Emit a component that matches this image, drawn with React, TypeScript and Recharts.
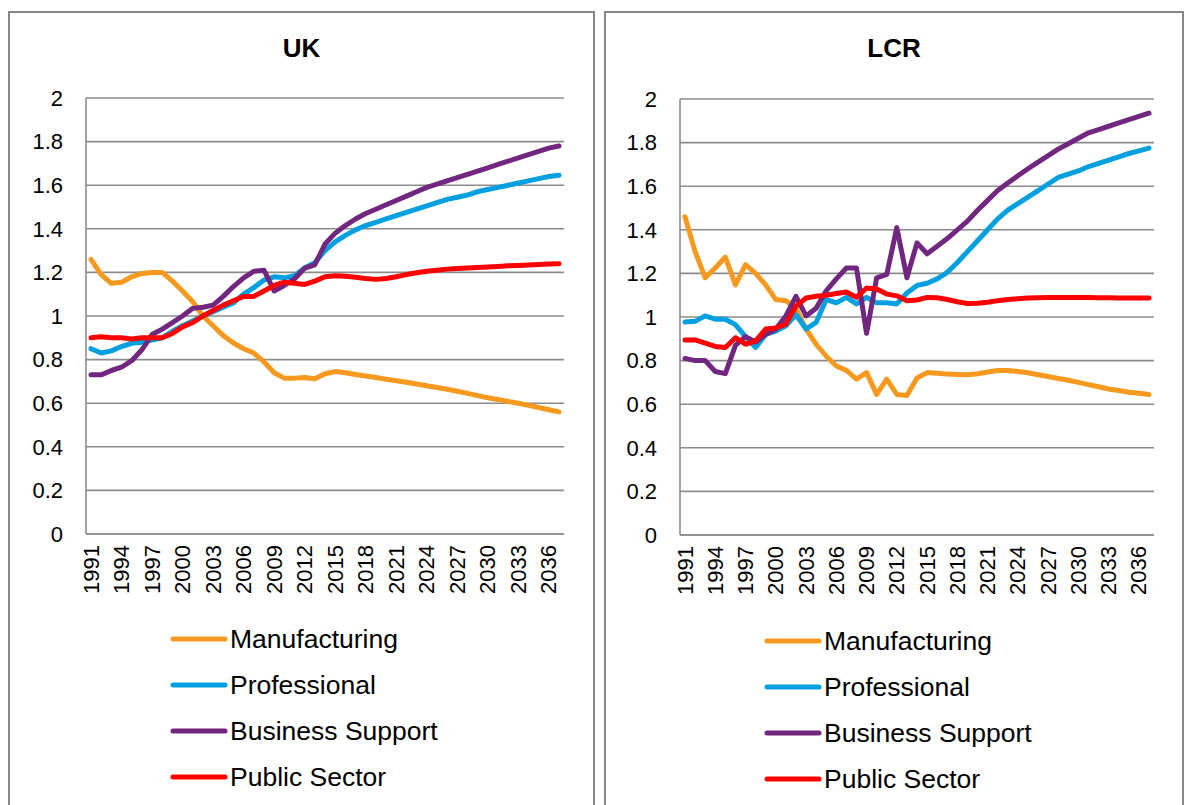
import { LineChart, Line, XAxis, YAxis, CartesianGrid, Legend } from "recharts";

const YEARS = [
  "1991", "1992", "1993", "1994", "1995", "1996", "1997", "1998", "1999", "2000",
  "2001", "2002", "2003", "2004", "2005", "2006", "2007", "2008", "2009", "2010",
  "2011", "2012", "2013", "2014", "2015", "2016", "2017", "2018", "2019", "2020",
  "2021", "2022", "2023", "2024", "2025", "2026", "2027", "2028", "2029", "2030",
  "2031", "2032", "2033", "2034", "2035", "2036", "2037"
];

const Y_TICKS = [0, 0.2, 0.4, 0.6, 0.8, 1, 1.2, 1.4, 1.6, 1.8, 2];

const UK_MANUFACTURING = [
  1.26, 1.19, 1.15, 1.155, 1.18, 1.195, 1.2, 1.2, 1.16, 1.115,
  1.065, 1.0, 0.955, 0.91, 0.876, 0.85, 0.83, 0.79, 0.74, 0.715,
  0.715, 0.718, 0.712, 0.735, 0.745, 0.74, 0.732, 0.725, 0.718, 0.71,
  0.703, 0.696, 0.688, 0.68, 0.672, 0.664, 0.655, 0.645, 0.635, 0.625,
  0.617, 0.608, 0.6, 0.59, 0.58, 0.57, 0.56
];
const UK_PROFESSIONAL = [
  0.85, 0.83, 0.84, 0.86, 0.875, 0.88, 0.89, 0.9, 0.93, 0.955,
  0.977, 1.0, 1.02, 1.04, 1.06, 1.1, 1.13, 1.165, 1.18, 1.175,
  1.185, 1.22, 1.245, 1.3, 1.34, 1.37, 1.395, 1.415, 1.43, 1.445,
  1.46, 1.475, 1.49, 1.505, 1.52, 1.535, 1.545, 1.555, 1.57, 1.58,
  1.59, 1.6, 1.61, 1.62, 1.63, 1.64, 1.646
];
const UK_BUSINESS = [
  0.73, 0.73, 0.75, 0.765, 0.795, 0.845, 0.915, 0.94, 0.97, 1.0,
  1.035, 1.04, 1.05, 1.09, 1.135, 1.175, 1.205, 1.21, 1.115, 1.14,
  1.17, 1.22, 1.235, 1.33, 1.38, 1.415, 1.445, 1.47, 1.49, 1.51,
  1.53, 1.55, 1.57, 1.59, 1.605, 1.62, 1.635, 1.65, 1.665, 1.68,
  1.695, 1.71, 1.725, 1.74, 1.755, 1.77, 1.78
];
const UK_PUBLIC = [
  0.9, 0.905, 0.9, 0.9, 0.895, 0.9, 0.9, 0.9, 0.92, 0.95,
  0.97, 1.0, 1.025, 1.05, 1.07, 1.09, 1.09, 1.115, 1.14, 1.155,
  1.15, 1.145, 1.16, 1.18, 1.185, 1.182, 1.178, 1.172, 1.168, 1.172,
  1.18, 1.19, 1.198, 1.205, 1.21, 1.215, 1.218, 1.22, 1.222, 1.225,
  1.227, 1.23, 1.232, 1.234, 1.236, 1.238, 1.24
];

const LCR_MANUFACTURING = [
  1.46, 1.3, 1.18, 1.225, 1.275, 1.147, 1.24, 1.2, 1.147, 1.08,
  1.075, 1.04, 0.945, 0.875, 0.82, 0.775, 0.755, 0.715, 0.745, 0.645,
  0.715, 0.645, 0.64, 0.72, 0.745, 0.742, 0.738, 0.736, 0.735, 0.74,
  0.748, 0.755, 0.755, 0.75, 0.744, 0.735, 0.727, 0.718, 0.71, 0.7,
  0.69, 0.68, 0.67, 0.663, 0.655, 0.65, 0.645
];
const LCR_PROFESSIONAL = [
  0.977, 0.98, 1.005, 0.99, 0.99, 0.965, 0.91, 0.86, 0.92, 0.935,
  0.96, 1.01, 0.945, 0.975, 1.08, 1.065, 1.09, 1.06, 1.09, 1.065,
  1.065, 1.06, 1.11, 1.145, 1.155, 1.175, 1.205, 1.25, 1.3, 1.35,
  1.4, 1.45, 1.49, 1.52, 1.55, 1.58, 1.61, 1.64, 1.655, 1.67,
  1.69, 1.705, 1.72, 1.735, 1.75, 1.762, 1.775
];
const LCR_BUSINESS = [
  0.81, 0.8, 0.8, 0.75, 0.74, 0.87, 0.91, 0.885, 0.92, 0.945,
  1.005, 1.095, 1.005, 1.04, 1.12, 1.175, 1.225, 1.225, 0.925, 1.18,
  1.195, 1.41, 1.18, 1.34, 1.29, 1.325, 1.36, 1.4, 1.44, 1.49,
  1.535, 1.58, 1.615, 1.648, 1.68, 1.71, 1.74, 1.77, 1.795, 1.82,
  1.845, 1.86, 1.875, 1.89, 1.905, 1.92, 1.935
];
const LCR_PUBLIC = [
  0.895, 0.895, 0.88, 0.865, 0.86, 0.905, 0.875, 0.89, 0.945, 0.95,
  0.967, 1.05, 1.087, 1.095, 1.1, 1.108, 1.115, 1.09, 1.133, 1.128,
  1.105, 1.097, 1.075, 1.078, 1.09, 1.088, 1.08, 1.07, 1.062, 1.063,
  1.068, 1.075, 1.08, 1.084, 1.087, 1.088, 1.089, 1.09, 1.09, 1.089,
  1.089, 1.088, 1.088, 1.087, 1.087, 1.087, 1.087
];

const SERIES = [
  { key: "manufacturing", name: "Manufacturing", color: "#F7991E" },
  { key: "professional", name: "Professional", color: "#00A0E0" },
  { key: "business", name: "Business Support", color: "#71277F" },
  { key: "public", name: "Public Sector", color: "#FF0000" },
];

const FONT = "'Liberation Sans', Arial, sans-serif";
const GRID = "#8c8c8c";

function buildRows(m: number[], p: number[], b: number[], s: number[]) {
  return YEARS.map((year, i) => ({
    year,
    manufacturing: m[i],
    professional: p[i],
    business: b[i],
    public: s[i],
  }));
}

const YearTick = ({ x, y, payload }: any) => (
  <text
    transform={`translate(${x},${y}) rotate(-90)`}
    textAnchor="end"
    dominantBaseline="central"
    fontSize={22}
    fontFamily={FONT}
    fill="#000"
  >
    {payload.value}
  </text>
);

const LegendBox = () => (
  <div style={{ fontFamily: FONT, fontSize: 26.5, color: "#000" }}>
    {SERIES.map((s) => (
      <div key={s.key} style={{ display: "flex", alignItems: "center", height: 46 }}>
        <svg width={58} height={8} style={{ display: "block" }}>
          <line x1={3} y1={4} x2={55} y2={4} stroke={s.color} strokeWidth={5} strokeLinecap="round" />
        </svg>
        <span style={{ marginLeft: 2, whiteSpace: "nowrap" }}>{s.name}</span>
      </div>
    ))}
  </div>
);

interface PanelProps {
  title: string;
  rows: any[];
  left: number;
  width: number;
  margin: { top: number; right: number; bottom: number; left: number };
  legendLeft: number;
  legendTop: number;
}

function Panel({ title, rows, left, width, margin, legendLeft, legendTop }: PanelProps) {
  const top = 11;
  const height = 794;
  return (
    <div style={{ position: "absolute", left, top, width, height }}>
      <div
        style={{
          position: "absolute",
          left: 0,
          top: 0,
          width,
          height: height + 20,
          border: "2px solid #878787",
          boxSizing: "border-box",
        }}
      />
      <div
        style={{
          position: "absolute",
          left: 0,
          top: 24,
          width,
          textAlign: "center",
          fontFamily: FONT,
          fontWeight: "bold",
          fontSize: 26,
          lineHeight: "26px",
        }}
      >
        {title}
      </div>
      <div style={{ position: "absolute", left: 0, top: 0 }}>
        <LineChart width={width} height={height} data={rows} margin={{ top: margin.top, right: margin.right, bottom: 0, left: 0 }}>
          <CartesianGrid vertical={false} stroke={GRID} strokeWidth={1.6} />
          <XAxis
            dataKey="year"
            interval={2}
            padding={{ left: 5, right: 5 }}
            tickLine={false}
            tickSize={0}
            tickMargin={11}
            axisLine={{ stroke: GRID, strokeWidth: 1.6 }}
            height={margin.bottom}
            tick={<YearTick />}
          />
          <YAxis
            domain={[0, 2]}
            ticks={Y_TICKS}
            interval={0}
            width={margin.left}
            tickLine={false}
            tickSize={0}
            tickMargin={23}
            axisLine={{ stroke: GRID, strokeWidth: 1.6 }}
            tick={{ fontSize: 22, fontFamily: FONT, fill: "#000" }}
          />
          {SERIES.map((s) => (
            <Line
              key={s.key}
              type="linear"
              dataKey={s.key}
              name={s.name}
              stroke={s.color}
              strokeWidth={5}
              strokeLinecap="round"
              strokeLinejoin="round"
              dot={false}
              isAnimationActive={false}
            />
          ))}
          <Legend
            layout="vertical"
            align="center"
            verticalAlign="middle"
            wrapperStyle={{ left: legendLeft, top: legendTop, width: "auto" }}
            content={() => <LegendBox />}
          />
        </LineChart>
      </div>
    </div>
  );
}

export default function App() {
  const ukRows = buildRows(UK_MANUFACTURING, UK_PROFESSIONAL, UK_BUSINESS, UK_PUBLIC);
  const lcrRows = buildRows(LCR_MANUFACTURING, LCR_PROFESSIONAL, LCR_BUSINESS, LCR_PUBLIC);
  return (
    <div style={{ position: "absolute", left: 0, top: 0, width: 1185, height: 805, overflow: "hidden", background: "#fff" }}>
      <Panel
        title="UK"
        rows={ukRows}
        left={8}
        width={587}
        margin={{ top: 87, right: 31, bottom: 271, left: 78 }}
        legendLeft={162}
        legendTop={605}
      />
      <Panel
        title="LCR"
        rows={lcrRows}
        left={604}
        width={580}
        margin={{ top: 88, right: 30, bottom: 270, left: 76 }}
        legendLeft={160}
        legendTop={607}
      />
    </div>
  );
}
